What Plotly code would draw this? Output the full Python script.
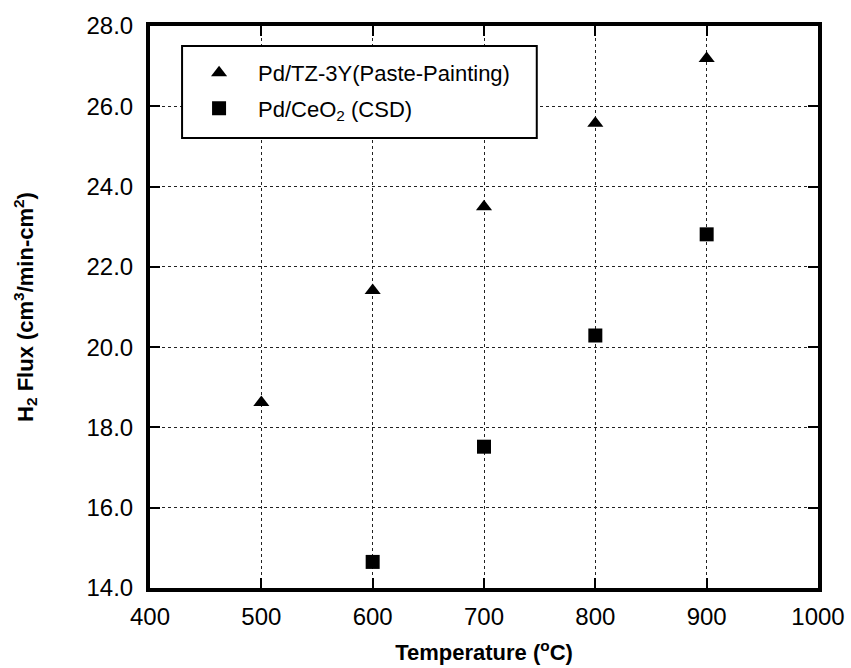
import plotly.graph_objects as go

temp_tz = [500, 600, 700, 800, 900]
flux_tz = [18.62, 21.41, 23.5, 25.58, 27.19]
temp_ce = [600, 700, 800, 900]
flux_ce = [14.65, 17.52, 20.29, 22.81]

name_tz = "Pd/TZ-3Y(Paste-Painting)"
name_ce = "Pd/CeO<sub>2</sub> (CSD)"

x_ticks = [400, 500, 600, 700, 800, 900, 1000]
y_ticks = [14, 16, 18, 20, 22, 24, 26, 28]

FONT = "Liberation Sans, Arial, Helvetica, sans-serif"

fig = go.Figure()
fig.add_trace(go.Scatter(x=temp_tz, y=flux_tz, mode="markers", name=name_tz,
                         legendgroup="a",
                         marker=dict(symbol="triangle-up", size=14, color="black")))
fig.add_trace(go.Scatter(x=temp_ce, y=flux_ce, mode="markers", name=name_ce,
                         legendgroup="b",
                         marker=dict(symbol="square", size=14, color="black")))

# legend box
fig.add_shape(type="rect", xref="paper", yref="paper",
              x0=0.048, x1=0.579, y0=0.8007, y1=0.9644,
              line=dict(color="black", width=2), fillcolor="white", layer="above")

axis_common = dict(
    showline=True, linecolor="black", linewidth=4, mirror="ticks",
    ticks="inside", ticklen=10, tickwidth=2, tickcolor="black",
    showgrid=True, gridcolor="#222222", gridwidth=1, griddash="dot",
    zeroline=False, automargin=False,
    tickfont=dict(family=FONT, size=24, color="black"),
)

fig.update_layout(
    width=851, height=668,
    margin=dict(l=150, r=33, t=26, b=80),
    paper_bgcolor="white", plot_bgcolor="white",
    showlegend=True,
    legend=dict(x=0.045, y=0.954, xanchor="left", yanchor="top",
                bgcolor="rgba(0,0,0,0)", borderwidth=0,
                font=dict(family=FONT, size=22, color="black"),
                itemwidth=68, tracegroupgap=4, traceorder="grouped"),
    xaxis=dict(range=[400, 1000], tickvals=x_ticks,
               ticktext=[str(v) for v in x_ticks],
               ticklabelstandoff=4,
               title=dict(text="Temperature (<sup>o</sup>C)", standoff=17,
                          font=dict(family=FONT, size=22, color="black", weight="bold")),
               **axis_common),
    yaxis=dict(range=[14, 28], tickvals=y_ticks,
               ticktext=[f"{v:.1f}" for v in y_ticks],
               ticklabelstandoff=8,
               title=dict(text="H<sub>2</sub> Flux (cm<sup>3</sup>/min-cm<sup>2</sup>)", standoff=48,
                          font=dict(family=FONT, size=22, color="black", weight="bold")),
               **axis_common),
)

fig.write_html("out.html")
